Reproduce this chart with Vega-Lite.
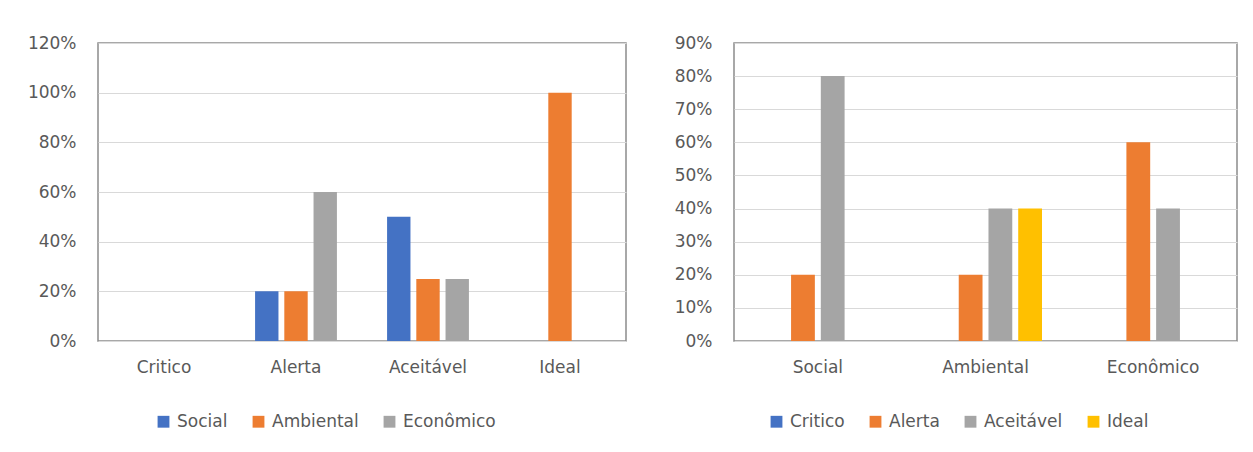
{
  "$schema": "https://vega.github.io/schema/vega-lite/v6.json",
  "background": "white",
  "padding": {"left": 26, "top": 33, "right": 5, "bottom": 5},
  "datasets": {
    "porNivel": [
      {"nivel": "Critico", "dimensao": "Social", "valor": 0},
      {"nivel": "Critico", "dimensao": "Ambiental", "valor": 0},
      {"nivel": "Critico", "dimensao": "Econômico", "valor": 0},
      {"nivel": "Alerta", "dimensao": "Social", "valor": 0.2},
      {"nivel": "Alerta", "dimensao": "Ambiental", "valor": 0.2},
      {"nivel": "Alerta", "dimensao": "Econômico", "valor": 0.6},
      {"nivel": "Aceitável", "dimensao": "Social", "valor": 0.5},
      {"nivel": "Aceitável", "dimensao": "Ambiental", "valor": 0.25},
      {"nivel": "Aceitável", "dimensao": "Econômico", "valor": 0.25},
      {"nivel": "Ideal", "dimensao": "Social", "valor": 0},
      {"nivel": "Ideal", "dimensao": "Ambiental", "valor": 1.0},
      {"nivel": "Ideal", "dimensao": "Econômico", "valor": 0}
    ],
    "porDimensao": [
      {"dimensao": "Social", "nivel": "Critico", "valor": 0},
      {"dimensao": "Social", "nivel": "Alerta", "valor": 0.2},
      {"dimensao": "Social", "nivel": "Aceitável", "valor": 0.8},
      {"dimensao": "Social", "nivel": "Ideal", "valor": 0},
      {"dimensao": "Ambiental", "nivel": "Critico", "valor": 0},
      {"dimensao": "Ambiental", "nivel": "Alerta", "valor": 0.2},
      {"dimensao": "Ambiental", "nivel": "Aceitável", "valor": 0.4},
      {"dimensao": "Ambiental", "nivel": "Ideal", "valor": 0.4},
      {"dimensao": "Econômico", "nivel": "Critico", "valor": 0},
      {"dimensao": "Econômico", "nivel": "Alerta", "valor": 0.6},
      {"dimensao": "Econômico", "nivel": "Aceitável", "valor": 0.4},
      {"dimensao": "Econômico", "nivel": "Ideal", "valor": 0}
    ]
  },
  "config": {
    "font": "DejaVu Sans",
    "view": {"stroke": "#8c8c8c", "strokeWidth": 1.5},
    "axis": {
      "labelFont": "DejaVu Sans",
      "labelFontSize": 17,
      "labelColor": "#595959",
      "ticks": false,
      "tickSize": 0,
      "domain": false,
      "title": null,
      "gridColor": "#d9d9d9",
      "gridWidth": 1
    },
    "legend": {
      "labelFont": "DejaVu Sans",
      "labelFontSize": 17,
      "labelColor": "#595959",
      "symbolType": "square",
      "symbolSize": 140,
      "symbolStrokeWidth": 0,
      "symbolOpacity": 1,
      "columnPadding": 22,
      "labelOffset": 5,
      "padding": 0
    }
  },
  "spacing": 108,
  "bounds": "flush",
  "resolve": {
    "scale": {"color": "independent", "x": "independent", "y": "independent", "xOffset": "independent"},
    "legend": {"color": "independent"}
  },
  "hconcat": [
    {
      "width": 528,
      "height": 298,
      "data": {"name": "porNivel"},
      "mark": {"type": "bar"},
      "encoding": {
        "x": {
          "field": "nivel",
          "type": "nominal",
          "sort": ["Critico", "Alerta", "Aceitável", "Ideal"],
          "scale": {"paddingInner": 0.38, "paddingOuter": 0.19},
          "axis": {"labelAngle": 0, "labelPadding": 18, "grid": false}
        },
        "xOffset": {
          "field": "dimensao",
          "type": "nominal",
          "sort": ["Social", "Ambiental", "Econômico"],
          "scale": {"paddingInner": 0.2, "paddingOuter": 0}
        },
        "y": {
          "field": "valor",
          "type": "quantitative",
          "scale": {"domain": [0, 1.2], "nice": false},
          "axis": {"values": [0, 0.2, 0.4, 0.6, 0.8, 1.0, 1.2], "format": ".0%", "labelPadding": 22}
        },
        "color": {
          "field": "dimensao",
          "type": "nominal",
          "scale": {"domain": ["Social", "Ambiental", "Econômico"], "range": ["#4472C4", "#ED7D31", "#A5A5A5"]},
          "legend": {"orient": "none", "direction": "horizontal", "legendX": 57, "legendY": 370, "title": null}
        }
      }
    },
    {
      "width": 503,
      "height": 298,
      "data": {"name": "porDimensao"},
      "mark": {"type": "bar"},
      "encoding": {
        "x": {
          "field": "dimensao",
          "type": "nominal",
          "sort": ["Social", "Ambiental", "Econômico"],
          "scale": {"paddingInner": 0.326, "paddingOuter": 0.163},
          "axis": {"labelAngle": 0, "labelPadding": 18, "grid": false}
        },
        "xOffset": {
          "field": "nivel",
          "type": "nominal",
          "sort": ["Critico", "Alerta", "Aceitável", "Ideal"],
          "scale": {"paddingInner": 0.2, "paddingOuter": 0}
        },
        "y": {
          "field": "valor",
          "type": "quantitative",
          "scale": {"domain": [0, 0.9], "nice": false},
          "axis": {"values": [0, 0.1, 0.2, 0.3, 0.4, 0.5, 0.6, 0.7, 0.8, 0.9], "format": ".0%", "labelPadding": 22}
        },
        "color": {
          "field": "nivel",
          "type": "nominal",
          "scale": {"domain": ["Critico", "Alerta", "Aceitável", "Ideal"], "range": ["#4472C4", "#ED7D31", "#A5A5A5", "#FFC000"]},
          "legend": {"orient": "none", "direction": "horizontal", "legendX": 34, "legendY": 370, "title": null}
        }
      }
    }
  ]
}
